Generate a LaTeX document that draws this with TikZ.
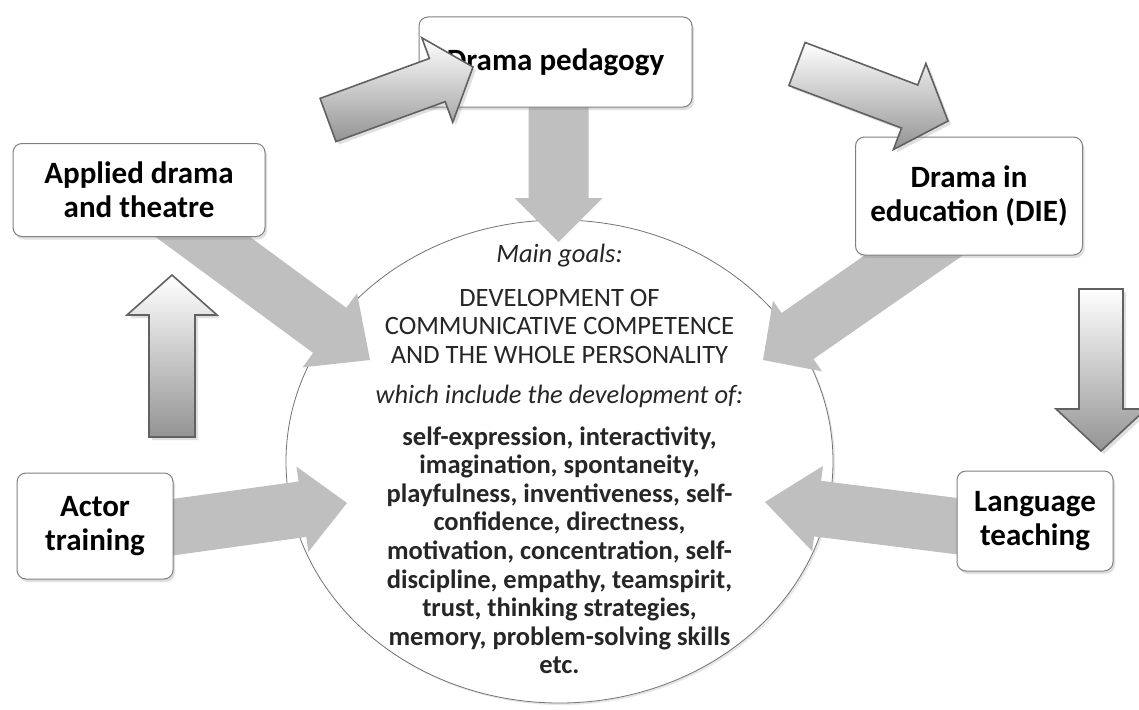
\documentclass[tikz,border=0pt]{standalone}
\usepackage{fontspec}
\setmainfont{Carlito}
\usetikzlibrary{calc,positioning,shadows,backgrounds,shapes.geometric}

% block arrow: style, foot, tip, shaft half width, head half width, head length
\newcommand\blockarrow[6]{%
  \path[#1]
    ($(#2)!#4!90:(#3)$) -- ($(#3)!#6!(#2)!#4!-90:(#2)$)
    -- ($(#3)!#6!(#2)!#5!-90:(#2)$) -- (#3)
    -- ($(#3)!#6!(#2)!#5!90:(#2)$) -- ($(#3)!#6!(#2)!#4!90:(#2)$)
    -- ($(#2)!#4!-90:(#3)$) -- cycle;
}

\tikzset{
  topic/.style = {draw = black!50, line width = 1pt, fill = white, rounded corners = 9pt,
    align = center, inner sep = 0pt, font = \fontsize{31}{34}\selectfont\bfseries,
    drop shadow = {shadow xshift = 2pt, shadow yshift = -3pt, opacity = 0.25}},
  goals/.style = {ellipse, draw = black!55, line width = 0.8pt, fill = white,
    minimum width = 547pt, minimum height = 483pt, inner sep = 0pt,
    drop shadow = {shadow xshift = 2pt, shadow yshift = -2pt, opacity = 0.2}},
  goaltext/.style = {align = center, inner sep = 0pt, text = black!85,
    font = \fontsize{26.5}{28.6}\selectfont},
  feed/.style = {fill = black!25},
  shiftarrow/.style = {draw = black!62, line width = 1.6pt, top color = white, bottom color = black!42,
    drop shadow = {shadow xshift = 3pt, shadow yshift = -3pt, opacity = 0.25}},
}

\begin{document}
\begin{tikzpicture}[x = 1pt, y = -1pt]
    \useasboundingbox (0, 0) rectangle (1139, 709);

    \node [topic, minimum width = 273pt, minimum height = 90pt] (ped) at (555.5, 62) {Drama pedagogy};
    \node [topic, minimum width = 252pt, minimum height = 93pt] (applied) at (139, 190) {Applied drama\\and theatre};
    \node [topic, minimum width = 227pt, minimum height = 118pt] (die) at (969, 196) {Drama in\\education (DIE)};
    \node [topic, minimum width = 156pt, minimum height = 106pt] (actor) at (95, 526) {Actor\\training};
    \node [topic, minimum width = 156pt, minimum height = 100pt] (lang) at (1035, 521) {Language\\teaching};

    \coordinate (pedfoot) at ([xshift = 3pt] ped.center);
    \coordinate (diefoot) at ([yshift = -21pt] die.center);
    \coordinate (actfoot) at ([yshift = -12pt] actor.center);
    \coordinate (langfoot) at ([yshift = -15pt] lang.center);

    \coordinate (inped) at (558.5, 242);
    \coordinate (inapp) at (370, 360);
    \coordinate (indie) at (763, 360);
    \coordinate (inact) at (347, 503);
    \coordinate (inlang) at (765, 502);

    \begin{scope}[on background layer]
        \node [goals] (goals) at (559.5, 461.5) {};
        \blockarrow{feed}{pedfoot}{inped}{30pt}{44pt}{44pt}
        \blockarrow{feed}{applied.center}{inapp}{28pt}{46pt}{50pt}
        \blockarrow{feed}{diefoot}{indie}{28pt}{43pt}{42pt}
        \blockarrow{feed}{actfoot}{inact}{28pt}{43pt}{45pt}
        \blockarrow{feed}{langfoot}{inlang}{28pt}{43pt}{53pt}
    \end{scope}

    \node [goaltext, below = 24pt of goals.north] (goaltext) {%
        \textit{Main goals:}\\[15.3pt]
        DEVELOPMENT OF\\
        COMMUNICATIVE COMPETENCE\\
        AND THE WHOLE PERSONALITY\\[11.3pt]
        \textit{which include the development of:}\\[13.3pt]
        \textbf{self-expression, interactivity,}\\
        \textbf{imagination, spontaneity,}\\
        \textbf{playfulness, inventiveness, self-}\\
        \textbf{confidence, directness,}\\
        \textbf{motivation, concentration, self-}\\
        \textbf{discipline, empathy, teamspirit,}\\
        \textbf{trust, thinking strategies,}\\
        \textbf{memory, problem-solving skills}\\
        \textbf{etc.}};

    % the cycle of shaded arrows
    \coordinate (rise0) at (172, 437);
    \coordinate (rise1) at (172, 275);
    \coordinate (toped0) at (328, 120);
    \coordinate (toped1) at (473, 67);
    \coordinate (todie0) at (797, 64);
    \coordinate (todie1) at (948, 121);
    \coordinate (tolang0) at (1101, 289);
    \coordinate (tolang1) at (1101, 451);

    \blockarrow{shiftarrow}{rise0}{rise1}{23pt}{45pt}{40pt}
    \blockarrow{shiftarrow}{toped0}{toped1}{23pt}{45pt}{38pt}
    \blockarrow{shiftarrow}{todie0}{todie1}{23pt}{46pt}{41pt}
    \blockarrow{shiftarrow}{tolang0}{tolang1}{22pt}{45pt}{42pt}
\end{tikzpicture}
\end{document}
